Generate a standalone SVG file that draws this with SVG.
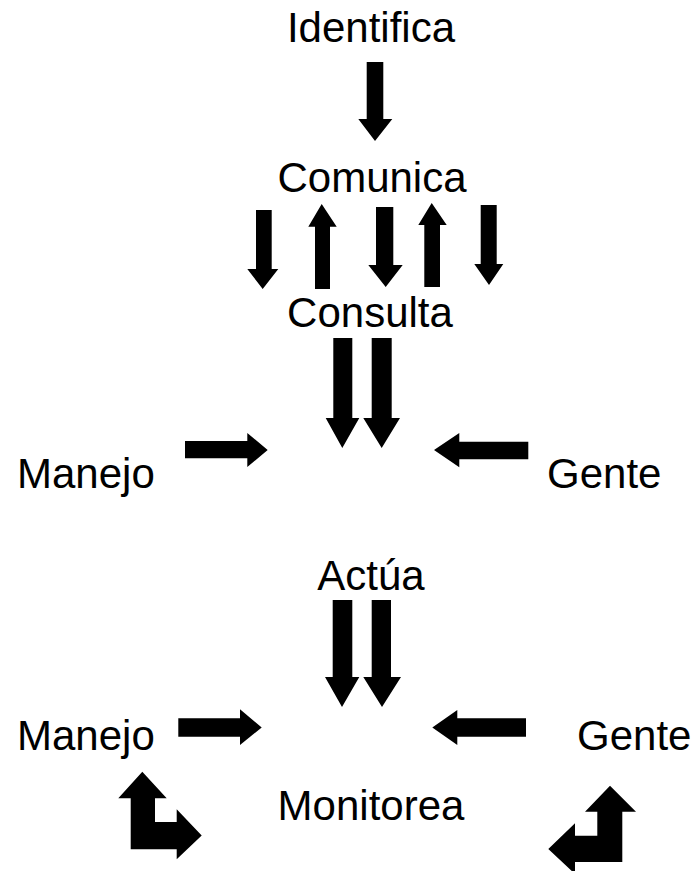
<svg xmlns="http://www.w3.org/2000/svg" width="693" height="871" viewBox="0 0 693 871">
<style>
text{font-family:"Liberation Sans",Arial,sans-serif;font-size:42px;fill:#000}
.c{text-anchor:middle}
.a{fill:#000;stroke:none}
</style>
<rect width="693" height="871" fill="#fff"/>
<g id="identifica"><text class="c" x="371" y="42">Identifica</text></g>
<g id="comunica"><text class="c" x="372" y="192">Comunica</text></g>
<g id="consulta"><text class="c" x="370" y="327">Consulta</text></g>
<g id="manejo1"><text x="17" y="488">Manejo</text></g>
<g id="gente1"><text x="547" y="488">Gente</text></g>
<g id="actua"><text class="c" x="371" y="590">Actúa</text></g>
<g id="manejo2"><text x="17" y="750">Manejo</text></g>
<g id="gente2"><text x="577" y="750">Gente</text></g>
<g id="monitorea"><text class="c" x="371" y="820">Monitorea</text></g>
<g id="connectors">
<polygon class="a" points="366.7,62 383.3,62 383.3,119 392.3,119 375,141 358.3,119 366.7,119"/>
<polygon class="a" points="256,210 271.7,210 271.7,269 278.3,269 262.7,289 247.3,269 256,269"/>
<polygon class="a" points="315,289 330,289 330,226.7 336.7,226.7 321.7,204 308.3,226.7 315,226.7"/>
<polygon class="a" points="376,207 393.3,207 393.3,265 402.7,265 385.7,287 368.3,265 376,265"/>
<polygon class="a" points="424.3,287 440,287 440,225 446.7,225 431.7,203 418.3,225 424.3,225"/>
<polygon class="a" points="480.7,205 496.7,205 496.7,264 503.3,264 489,285 474.3,264 480.7,264"/>
<polygon class="a" points="333.3,338 352.3,338 352.3,418 359.3,418 342.3,448 325.7,418 333.3,418"/>
<polygon class="a" points="371.7,338 391.7,338 391.7,418 400,418 381.7,448 363.3,418 371.7,418"/>
<polygon class="a" points="185,441 247.3,441 247.3,433 267.7,450 247.3,467 247.3,458.3 185,458.3"/>
<polygon class="a" points="528.3,441.7 459.3,441.7 459.3,433 434,450 459.3,467.3 459.3,459.3 528.3,459.3"/>
<polygon class="a" points="332.7,600 352.3,600 352.3,677 359.3,677 342,707 325,677 332.7,677"/>
<polygon class="a" points="371.7,600 391,600 391,677 401,677 382,707 363.3,677 371.7,677"/>
<polygon class="a" points="178.3,718.3 240,718.3 240,709.3 261.7,727.5 240,745 240,736.7 178.3,736.7"/>
<polygon class="a" points="526,718.3 457.3,718.3 457.3,710 432.3,727.5 457.3,745 457.3,736.7 526,736.7"/>
<polygon class="a" points="142.3,771.7 166.7,798.3 155,798.3 155,822 176.7,822 176.7,809.3 201.7,835.5 176.7,859.3 176.7,849.3 130.7,849.3 130.7,798.3 118.3,798.3"/>
<polygon class="a" points="610,785.7 636,811.7 622.3,811.7 622.3,862 575,862 575,874 548.3,849 575,823.3 575,835.7 597.3,835.7 597.3,811.7 585,811.7"/>
</g>
</svg>
